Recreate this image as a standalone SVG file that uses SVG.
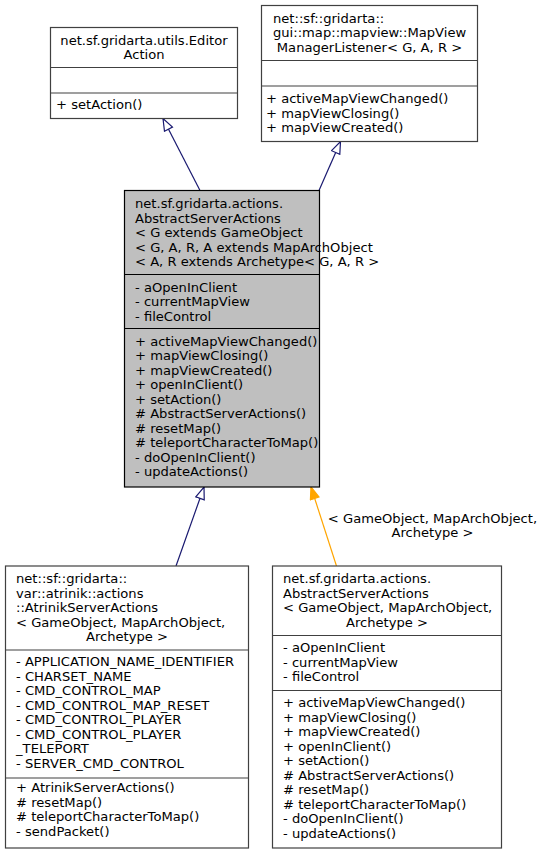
<svg xmlns="http://www.w3.org/2000/svg" width="543" height="853" viewBox="0 0 543 853">
<defs>
<style>
text { font-family: "DejaVu Sans", "Liberation Sans", sans-serif; font-size: 12.2px; fill: #000; transform-box: fill-box; transform: scaleX(1.075); }
.l { transform-origin: left center; }
.c { text-anchor: middle; transform-origin: center; }
.box { fill: #ffffff; stroke: #404040; stroke-width: 1.2; }
.main { fill: #bfbfbf; stroke: #000000; stroke-width: 1.2; }
.sep { stroke: #404040; stroke-width: 1.2; }
.msep { stroke: #000000; stroke-width: 1.2; }
.inh { fill: none; stroke: #191970; stroke-width: 1.2; }
.tpl { fill: none; stroke: #ffa500; stroke-width: 1.2; }
</style>
<marker id="hollow" viewBox="-1 -1 14 11" refX="12" refY="4.5" markerWidth="14" markerHeight="11" markerUnits="userSpaceOnUse" orient="auto">
<path d="M0,0 L12,4.5 L0,9 Z" fill="#ffffff" stroke="#191970" stroke-width="1.2"/>
</marker>
<marker id="filled" viewBox="-1 -1 14 11" refX="12" refY="4.5" markerWidth="14" markerHeight="11" markerUnits="userSpaceOnUse" orient="auto">
<path d="M0,0 L12,4.5 L0,9 Z" fill="#ffa500" stroke="#ffa500" stroke-width="1.2"/>
</marker>
</defs>
<rect width="543" height="853" fill="#ffffff"/>

<g id="connectors">
<path class="inh" d="M200,190.5 L163,118.5" marker-end="url(#hollow)"/>
<path class="inh" d="M319,190.5 L340.5,141.5" marker-end="url(#hollow)"/>
<path class="inh" d="M176,566 L204,487" marker-end="url(#hollow)"/>
<path class="tpl" d="M336.5,566 L311,487" marker-end="url(#filled)"/>
<text class="c" x="432.5" y="523">&lt; GameObject, MapArchObject,</text>
<text class="c" x="432.5" y="537.5">Archetype &gt;</text>
</g>

<g id="node-EditorAction">
<rect class="box" x="50.5" y="27.5" width="187" height="91"/>
<line class="sep" x1="50.5" y1="67.5" x2="237.5" y2="67.5"/>
<line class="sep" x1="50.5" y1="93" x2="237.5" y2="93"/>
<text class="c" x="144" y="44.8">net.sf.gridarta.utils.Editor</text>
<text class="c" x="144" y="59.3">Action</text>
<text class="l" x="56" y="109.5">+ setAction()</text>
</g>

<g id="node-MapViewManagerListener">
<rect class="box" x="261.5" y="5.5" width="216" height="136"/>
<line class="sep" x1="261.5" y1="60.5" x2="477.5" y2="60.5"/>
<line class="sep" x1="261.5" y1="86" x2="477.5" y2="86"/>
<text class="l" x="273" y="22.8">net::sf::gridarta::</text>
<text class="l" x="273" y="37.3">gui::map::mapview::MapView</text>
<text class="c" x="369.5" y="51.8">ManagerListener&lt; G, A, R &gt;</text>
<text class="l" x="266" y="103.3">+ activeMapViewChanged()</text>
<text class="l" x="266" y="117.8">+ mapViewClosing()</text>
<text class="l" x="266" y="132.3">+ mapViewCreated()</text>
</g>

<g id="node-AbstractServerActions">
<rect class="main" x="124.5" y="190.5" width="195" height="296.5"/>
<line class="msep" x1="124.5" y1="274.5" x2="319.5" y2="274.5"/>
<line class="msep" x1="124.5" y1="328.5" x2="319.5" y2="328.5"/>
<text class="l" x="135" y="208.3">net.sf.gridarta.actions.</text>
<text class="l" x="135" y="222.8">AbstractServerActions</text>
<text class="l" x="135" y="237.3">&lt; G extends GameObject</text>
<text class="l" x="135" y="251.8">&lt; G, A, R, A extends MapArchObject</text>
<text class="l" x="135" y="266.3">&lt; A, R extends Archetype&lt; G, A, R &gt;</text>
<text class="l" x="135" y="291.8">- aOpenInClient</text>
<text class="l" x="135" y="306.3">- currentMapView</text>
<text class="l" x="135" y="320.8">- fileControl</text>
<text class="l" x="135" y="345.8">+ activeMapViewChanged()</text>
<text class="l" x="135" y="360.3">+ mapViewClosing()</text>
<text class="l" x="135" y="374.8">+ mapViewCreated()</text>
<text class="l" x="135" y="389.3">+ openInClient()</text>
<text class="l" x="135" y="403.8">+ setAction()</text>
<text class="l" x="135" y="418.3"># AbstractServerActions()</text>
<text class="l" x="135" y="432.8"># resetMap()</text>
<text class="l" x="135" y="447.3"># teleportCharacterToMap()</text>
<text class="l" x="135" y="461.8">- doOpenInClient()</text>
<text class="l" x="135" y="476.3">- updateActions()</text>
</g>

<g id="node-AtrinikServerActions">
<rect class="box" x="5.5" y="566" width="243" height="282"/>
<line class="sep" x1="5.5" y1="650" x2="248.5" y2="650"/>
<line class="sep" x1="5.5" y1="778" x2="248.5" y2="778"/>
<text class="l" x="16" y="583.3">net::sf::gridarta::</text>
<text class="l" x="16" y="597.8">var::atrinik::actions</text>
<text class="l" x="16" y="612.3">::AtrinikServerActions</text>
<text class="l" x="16" y="626.8">&lt; GameObject, MapArchObject,</text>
<text class="c" x="127" y="641.3">Archetype &gt;</text>
<text class="l" x="16" y="666.3">- APPLICATION_NAME_IDENTIFIER</text>
<text class="l" x="16" y="680.8">- CHARSET_NAME</text>
<text class="l" x="16" y="695.3">- CMD_CONTROL_MAP</text>
<text class="l" x="16" y="709.8">- CMD_CONTROL_MAP_RESET</text>
<text class="l" x="16" y="724.3">- CMD_CONTROL_PLAYER</text>
<text class="l" x="16" y="738.8">- CMD_CONTROL_PLAYER</text>
<text class="l" x="16" y="753.3">_TELEPORT</text>
<text class="l" x="16" y="767.8">- SERVER_CMD_CONTROL</text>
<text class="l" x="16" y="792.3">+ AtrinikServerActions()</text>
<text class="l" x="16" y="806.8"># resetMap()</text>
<text class="l" x="16" y="821.3"># teleportCharacterToMap()</text>
<text class="l" x="16" y="835.8">- sendPacket()</text>
</g>

<g id="node-AbstractServerActionsInstance">
<rect class="box" x="272.5" y="566" width="229" height="282"/>
<line class="sep" x1="272.5" y1="635.5" x2="501.5" y2="635.5"/>
<line class="sep" x1="272.5" y1="690.5" x2="501.5" y2="690.5"/>
<text class="l" x="283" y="583.3">net.sf.gridarta.actions.</text>
<text class="l" x="283" y="597.8">AbstractServerActions</text>
<text class="l" x="283" y="612.3">&lt; GameObject, MapArchObject,</text>
<text class="c" x="387" y="626.8">Archetype &gt;</text>
<text class="l" x="283" y="652.3">- aOpenInClient</text>
<text class="l" x="283" y="666.8">- currentMapView</text>
<text class="l" x="283" y="681.3">- fileControl</text>
<text class="l" x="283" y="707.3">+ activeMapViewChanged()</text>
<text class="l" x="283" y="721.8">+ mapViewClosing()</text>
<text class="l" x="283" y="736.3">+ mapViewCreated()</text>
<text class="l" x="283" y="750.8">+ openInClient()</text>
<text class="l" x="283" y="765.3">+ setAction()</text>
<text class="l" x="283" y="779.8"># AbstractServerActions()</text>
<text class="l" x="283" y="794.3"># resetMap()</text>
<text class="l" x="283" y="808.8"># teleportCharacterToMap()</text>
<text class="l" x="283" y="823.3">- doOpenInClient()</text>
<text class="l" x="283" y="837.8">- updateActions()</text>
</g>
</svg>
